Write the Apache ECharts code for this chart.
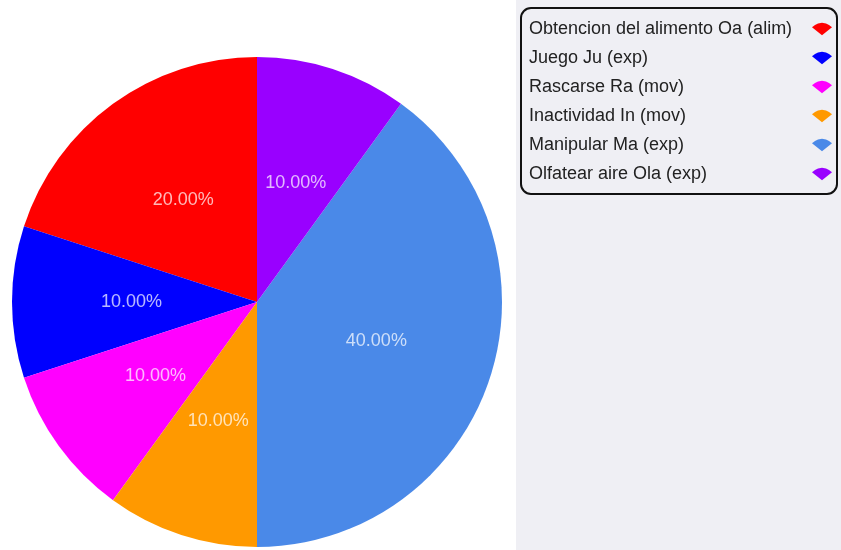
<!DOCTYPE html>
<html>
<head>
<meta charset="utf-8">
<script src="https://cdn.jsdelivr.net/npm/echarts@6/dist/echarts.min.js"></script>
<style>html,body{margin:0;padding:0;background:#fff;}#c{width:841px;height:550px;}</style>
</head>
<body>
<div id="c"></div>
<script>
const categories = ["Obtencion del alimento Oa (alim)", "Juego Ju (exp)", "Rascarse Ra (mov)", "Inactividad In (mov)", "Manipular Ma (exp)", "Olfatear aire Ola (exp)"];
const values = [20, 10, 10, 10, 40, 10];
const colors = ["#ff0000", "#0000ff", "#ff00ff", "#ff9900", "#4a89e8", "#9900ff"];

const chart = echarts.init(document.getElementById('c'), null, {renderer: 'canvas'});
const icon = 'path://M0,5 L3,2.6 L6,1.1 L10,0.4 L14,1.1 L17,2.6 L20,5 L10,13 Z';
chart.setOption({
  animation: false,
  backgroundColor: '#ffffff',
  color: colors,
  graphic: [{
    type: 'rect', left: 516, top: 0, z: -10,
    shape: {width: 325, height: 550},
    style: {fill: '#efeff4'}
  }],
  legend: {
    orient: 'vertical',
    left: 521, top: 8,
    align: 'right',
    padding: [12, 5, 11, 8],
    itemWidth: 20, itemHeight: 13, itemGap: 11,
    borderColor: '#111', borderWidth: 2, borderRadius: 10,
    icon: icon,
    selectedMode: false,
    formatter: n => '{a|' + n + '}',
    textStyle: {
      fontFamily: 'Liberation Sans', fontSize: 18, color: '#222', lineHeight: 18,
      rich: {a: {fontFamily: 'Liberation Sans', fontSize: 18, color: '#222', width: 278, align: 'left', lineHeight: 18}}
    },
    data: categories
  },
  series: [{
    type: 'pie',
    center: [257, 302],
    radius: [0, 245],
    startAngle: 90,
    clockwise: false,
    silent: true,
    label: {
      show: true, position: 'inside',
      formatter: p => p.value.toFixed(2) + '%',
      fontFamily: 'Liberation Sans', fontSize: 18,
      color: 'rgba(255,255,255,0.72)'
    },
    labelLine: {show: false},
    emphasis: {disabled: true},
    data: categories.map((n, i) => ({name: n, value: values[i]}))
  }]
});
</script>
</body>
</html>
